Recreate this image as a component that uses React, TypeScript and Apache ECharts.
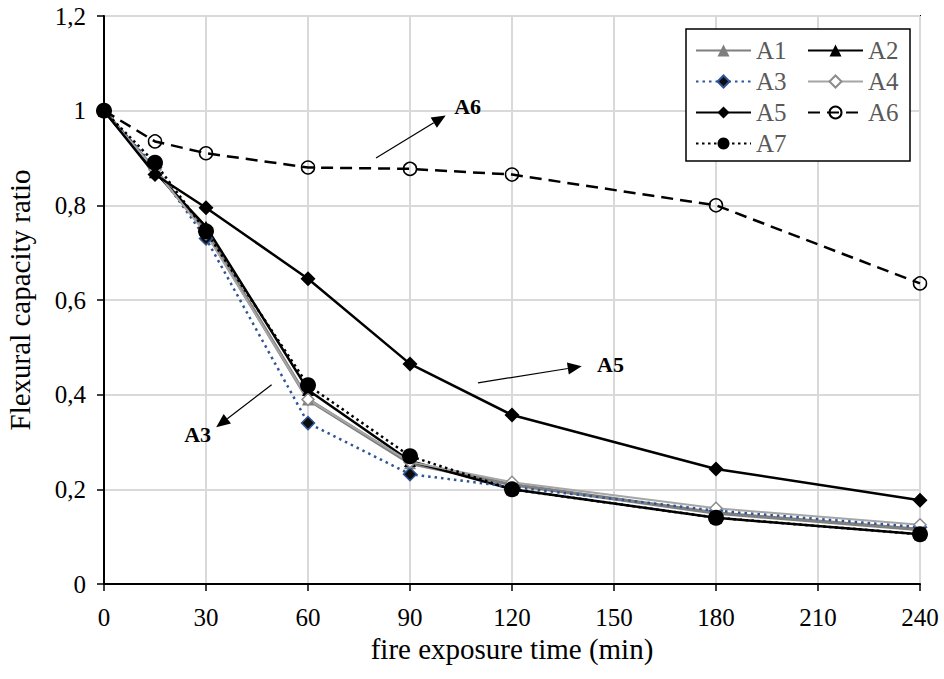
import React, { useEffect, useRef } from "react";
import * as echarts from "echarts";

// fire exposure time (min)
const times = [0, 15, 30, 60, 90, 120, 180, 240];
// flexural capacity ratio per specimen
const a1 = [1, 0.875, 0.745, 0.39, 0.255, 0.21, 0.15, 0.115];
const a2 = [1, 0.87, 0.755, 0.41, 0.26, 0.2, 0.14, 0.105];
const a3 = [1, 0.88, 0.73, 0.34, 0.232, 0.205, 0.155, 0.12];
const a4 = [1, 0.875, 0.74, 0.39, 0.258, 0.215, 0.16, 0.125];
const a5 = [1, 0.865, 0.795, 0.645, 0.465, 0.357, 0.243, 0.177];
const a6 = [1, 0.935, 0.91, 0.88, 0.877, 0.865, 0.8, 0.635];
const a7 = [1, 0.89, 0.745, 0.42, 0.27, 0.2, 0.14, 0.105];

const legendCol1 = ["A1", "A3", "A5", "A7"];
const legendCol2 = ["A2", "A4", "A6"];

// arrows with labels, in data coordinates (time, ratio)
const annotations = [
  { label: "A6", tail: [80, 0.9], head: [100.5, 0.99], text: [103, 1.008], align: "left" },
  { label: "A5", tail: [110, 0.425], head: [140.5, 0.46], text: [145, 0.463], align: "left" },
  { label: "A3", tail: [49.3, 0.421], head: [33, 0.331], text: [31.5, 0.316], align: "right" },
];

const FONT = "Liberation Serif";

export default function App() {
  const ref = useRef<HTMLDivElement>(null);
  useEffect(() => {
    document.body.style.margin = "0";
    const chart = echarts.init(ref.current!, null, { renderer: "svg" });
    const pts = (vals: number[]) => times.map((t, i) => [t, vals[i]]);
    const legendBase = {
      orient: "vertical",
      top: 33,
      itemWidth: 55,
      itemHeight: 15,
      itemGap: 6,
      padding: 5,
      selectedMode: false,
      textStyle: { fontSize: 25, color: "#595959", fontFamily: FONT },
    };
    const option: any = {
      animation: false,
      textStyle: { fontFamily: FONT },
      grid: {
        left: 104,
        right: 24,
        top: 16,
        bottom: 95,
        show: true,
        borderColor: "#000",
        borderWidth: 2,
        containLabel: false,
        outerBoundsMode: "none",
      },
      legend: [
        { ...legendBase, data: legendCol1, left: 690 },
        { ...legendBase, data: legendCol2, left: 802 },
      ],
      xAxis: {
        type: "value",
        min: 0,
        max: 240,
        interval: 30,
        name: "fire exposure time (min)",
        nameLocation: "middle",
        nameGap: 50,
        nameTextStyle: { fontSize: 29, color: "#000", fontFamily: FONT },
        axisLine: { show: true, lineStyle: { color: "#000", width: 2 } },
        axisTick: { show: true, length: 7, lineStyle: { color: "#000", width: 1.5 } },
        splitLine: { show: true, lineStyle: { color: "#d9d9d9", width: 2 } },
        axisLabel: { fontSize: 25, color: "#000", margin: 21, fontFamily: FONT },
      },
      yAxis: {
        type: "value",
        min: 0,
        max: 1.2,
        interval: 0.2,
        name: "Flexural capacity ratio",
        nameLocation: "middle",
        nameGap: 70,
        nameTextStyle: { fontSize: 29, color: "#000", fontFamily: FONT },
        axisLine: { show: true, lineStyle: { color: "#000", width: 2 } },
        axisTick: { show: true, length: 7, lineStyle: { color: "#000", width: 1.5 } },
        splitLine: { show: true, lineStyle: { color: "#d9d9d9", width: 2 } },
        axisLabel: {
          fontSize: 25,
          color: "#000",
          margin: 18,
          fontFamily: FONT,
          formatter: (v: number) => String(+v.toFixed(1)).replace(".", ","),
        },
      },
      series: [
        {
          type: "line", name: "A1", data: pts(a1),
          symbol: "triangle", symbolSize: 12,
          lineStyle: { color: "#7f7f7f", width: 3.5 },
          itemStyle: { color: "#7f7f7f" },
        },
        {
          type: "line", name: "A2", data: pts(a2),
          symbol: "triangle", symbolSize: 12,
          lineStyle: { color: "#000", width: 2.5 },
          itemStyle: { color: "#000" },
        },
        {
          type: "line", name: "A3", data: pts(a3),
          symbol: "diamond", symbolSize: 13,
          lineStyle: { color: "#2f5597", width: 2.5, type: [2.5, 4] },
          itemStyle: { color: "#0d0d0d", borderColor: "#2f5597", borderWidth: 1.5 },
        },
        {
          type: "line", name: "A4", data: pts(a4),
          symbol: "diamond", symbolSize: 12,
          lineStyle: { color: "#a6a6a6", width: 2 },
          itemStyle: { color: "#fff", borderColor: "#8c8c8c", borderWidth: 1.5 },
        },
        {
          type: "line", name: "A5", data: pts(a5),
          symbol: "diamond", symbolSize: 15,
          lineStyle: { color: "#000", width: 2.5 },
          itemStyle: { color: "#000" },
        },
        {
          type: "line", name: "A6", data: pts(a6),
          symbol: "circle", symbolSize: 13,
          lineStyle: { color: "#000", width: 2.5, type: [12, 7] },
          itemStyle: { color: "rgba(255,255,255,0)", borderColor: "#000", borderWidth: 1.5 },
        },
        {
          type: "line", name: "A7", data: pts(a7),
          symbol: "circle", symbolSize: 16,
          lineStyle: { color: "#000", width: 2.5, type: [2.5, 3.5] },
          itemStyle: { color: "#000" },
        },
      ],
    };
    chart.setOption(option);

    const graphics: any[] = [
      {
        type: "rect",
        z: 3,
        shape: { x: 686, y: 29, width: 224, height: 132 },
        style: { fill: "#fff", stroke: "#000", lineWidth: 1.5 },
      },
    ];
    annotations.forEach((a) => {
      const p0 = chart.convertToPixel({ gridIndex: 0 }, a.tail) as number[];
      const p1 = chart.convertToPixel({ gridIndex: 0 }, a.head) as number[];
      const pt = chart.convertToPixel({ gridIndex: 0 }, a.text) as number[];
      const dx = p1[0] - p0[0];
      const dy = p1[1] - p0[1];
      const L = Math.hypot(dx, dy);
      const ux = dx / L;
      const uy = dy / L;
      const hl = 14;
      const hw = 6;
      const bx = p1[0] - ux * hl;
      const by = p1[1] - uy * hl;
      graphics.push({
        type: "line",
        z: 5,
        shape: { x1: p0[0], y1: p0[1], x2: bx, y2: by },
        style: { stroke: "#000", lineWidth: 1.2 },
      });
      graphics.push({
        type: "polygon",
        z: 5,
        shape: {
          points: [
            [p1[0], p1[1]],
            [bx - uy * hw, by + ux * hw],
            [bx + uy * hw, by - ux * hw],
          ],
        },
        style: { fill: "#000" },
      });
      graphics.push({
        type: "text",
        z: 5,
        x: pt[0],
        y: pt[1],
        style: {
          text: a.label,
          fontSize: 22,
          fontWeight: "bold",
          fontFamily: FONT,
          fill: "#000",
          align: a.align,
          verticalAlign: "middle",
        },
      });
    });
    chart.setOption({ graphic: graphics });

    return () => chart.dispose();
  }, []);
  return <div ref={ref} style={{ width: 944, height: 679 }} />;
}
